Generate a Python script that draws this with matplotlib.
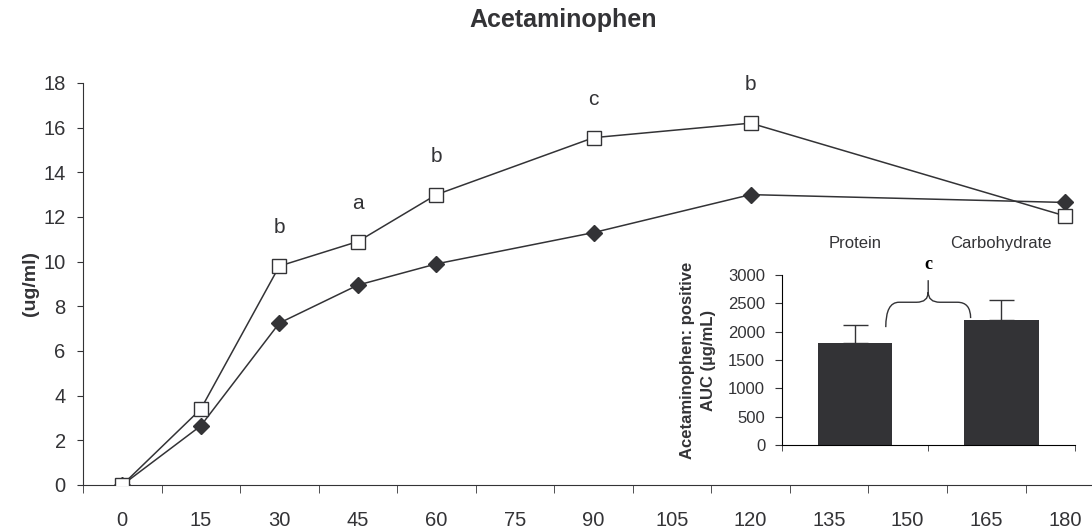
import matplotlib.pyplot as plt
import numpy as np
from matplotlib.path import Path
from matplotlib.patches import PathPatch

plt.rcParams['font.family'] = ['Liberation Sans', 'DejaVu Sans']

# time points (min) and plasma acetaminophen (ug/ml)
minutes = [0, 15, 30, 45, 60, 90, 120, 180]
carb = [0.0, 3.4, 9.8, 10.9, 13.0, 15.55, 16.2, 12.05]
protein = [0.0, 2.65, 7.25, 8.95, 9.9, 11.3, 13.0, 12.65]
sig_x = [30, 45, 60, 90, 120]
sig_lab = ['b', 'a', 'b', 'c', 'b']
tick_minutes = list(range(0, 181, 15))

# inset AUC bars
groups = ['Protein', 'Carbohydrate']
auc = [1800, 2200]
auc_err = [310, 360]

dark = '#333336'

fig = plt.figure(figsize=(10.92, 5.29), dpi=100)
ax = fig.add_axes([0.076, 0.0832, 0.924, 0.76])

ax.plot(minutes, protein, color=dark, lw=1.1, marker='D', ms=8.5,
        mfc=dark, mec=dark, zorder=3)
ax.plot(minutes, carb, color=dark, lw=1.1, marker='s', ms=9.5,
        mfc='white', mec=dark, mew=1.0, zorder=4)

for x, lab in zip(sig_x, sig_lab):
    y = carb[minutes.index(x)]
    ax.text(x, y + 1.72, lab, ha='center', va='center', fontsize=15, color=dark)

ax.set_xlim(-7.5, 185.2)
ax.set_ylim(0, 18)
ax.set_yticks(range(0, 19, 2))
ax.set_xticks(tick_minutes)
ax.set_xticks(np.arange(-7.5, 186, 15), minor=True)
ax.tick_params(axis='x', which='major', length=0, pad=19, labelsize=14.5,
               labelcolor=dark)
ax.tick_params(axis='x', which='minor', length=6, direction='out', color=dark)
ax.tick_params(axis='y', length=4.5, pad=8, direction='out', labelsize=14.5,
               color=dark, labelcolor=dark)
for s in ['top', 'right']:
    ax.spines[s].set_visible(False)
for s in ['left', 'bottom']:
    ax.spines[s].set_color(dark)
ax.set_ylabel('(ug/ml)', fontsize=14, fontweight='bold', labelpad=3,
              color=dark)
fig.text(0.516, 0.962, 'Acetaminophen', ha='center', va='center',
         fontsize=18, fontweight='bold', color=dark)

# inset
ins = fig.add_axes([0.716, 0.159, 0.268, 0.321])
xpos = np.arange(len(groups))
ins.bar(xpos, auc, width=0.51, color=dark)
ins.errorbar(xpos, auc, yerr=[[0, 0], auc_err], fmt='none', ecolor=dark,
             elinewidth=1.0, capsize=9, capthick=1.0)
ins.set_xlim(-0.5, 1.5)
ins.set_ylim(0, 3000)
ins.set_yticks(range(0, 3001, 500))
ins.set_xticks(xpos, groups)
ins.set_xticks([-0.5, 0.5, 1.5], minor=True)
ins.tick_params(axis='x', which='major', length=0, top=False, bottom=False,
                labeltop=True, labelbottom=False, pad=17, labelsize=12,
                labelcolor=dark)
ins.tick_params(axis='x', which='minor', length=4, direction='out', color=dark)
ins.tick_params(axis='y', length=5, pad=7, direction='out', labelsize=12,
                color=dark, labelcolor=dark)
for s in ['top', 'right']:
    ins.spines[s].set_visible(False)
ins.set_ylabel('Acetaminophen: positive\nAUC (\u00b5g/mL)', fontsize=12,
               fontweight='bold', labelpad=9, linespacing=1.45, color=dark)

# brace linking the two bars
x0 = xpos[0] + 0.21
x1 = xpos[1] - 0.21
xm = (x0 + x1) / 2
yb0 = auc[0] + 280
yb1 = auc[1] + 40
yt = max(auc[1], auc[0] + auc_err[0]) + 320
yp = yt + 390
verts = [(x0, yb0), (x0, yt), (x0 + 0.09, yt), (xm - 0.08, yt),
         (xm, yt), (xm, yt + 180), (xm, yp),
         (x1, yb1), (x1, yt), (x1 - 0.09, yt), (xm + 0.08, yt),
         (xm, yt), (xm, yt + 180)]
codes = [Path.MOVETO, Path.CURVE3, Path.CURVE3, Path.LINETO,
         Path.CURVE3, Path.CURVE3, Path.LINETO,
         Path.MOVETO, Path.CURVE3, Path.CURVE3, Path.LINETO,
         Path.CURVE3, Path.CURVE3]
ins.add_patch(PathPatch(Path(verts, codes), fill=False, ec=dark, lw=1.0,
                        clip_on=False))
ins.text(xm, yp + 130, 'c', ha='center', va='bottom', fontsize=13,
         fontweight='bold', family=['Liberation Serif', 'DejaVu Serif'])

fig.savefig('out.png', dpi=100)
